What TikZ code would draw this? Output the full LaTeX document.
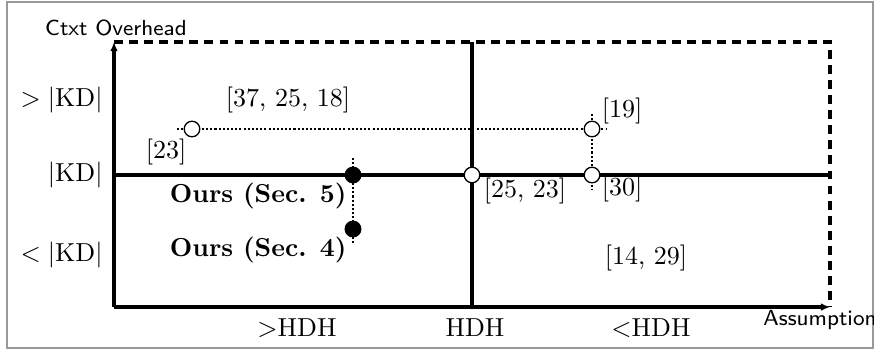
\documentclass[tikz,border=0pt]{standalone}
\usetikzlibrary{arrows.meta}
\begin{document}
\begin{tikzpicture}[x=0.3846pt,y=-0.3846pt,
  axis/.style={line width=1.6pt},
  bound/.style={line width=1.6pt,dash pattern=on 3.4pt off 2.4pt},
  dotline/.style={line width=0.45pt,dash pattern=on 0.8pt off 0.8pt},
  opendot/.style={circle,draw,fill=white,inner sep=0pt,minimum size=6pt,line width=0.5pt},
  fulldot/.style={circle,draw,fill=black,inner sep=0pt,minimum size=6pt,line width=0.5pt},
  lbl/.style={inner sep=0pt},
  sans/.style={inner sep=0pt,font=\fontsize{8.4}{10}\selectfont\sffamily},
  tip/.style={-{Latex[length=3.5pt,width=3pt]}}]
\useasboundingbox (0,0) rectangle (874,350);
\draw[gray!80,line width=0.7pt] (7,2) rectangle (873,348);
% frame coordinates
\coordinate (O) at (114,307);
\coordinate (Ytop) at (114,42);
\coordinate (Xend) at (830,307);
\coordinate (TR) at (830,42);
\coordinate (Htop) at (472,42);
\coordinate (Hbot) at (472,307);
\coordinate (Kl) at (114,175);
\coordinate (Kr) at (830,175);
% dotted connectors
\coordinate (d1s) at (177,129);
\coordinate (d1e) at (607,129);
\coordinate (d2s) at (592,114);
\coordinate (d2e) at (592,190);
\coordinate (d3s) at (353,158);
\coordinate (d3e) at (353,244);
% boundary
\draw[bound] (Ytop) -- (TR) -- (Xend);
\draw[axis] (Htop) -- (Hbot);
\draw[axis] (Kl) -- (Kr);
\draw[axis,tip] (O) -- (Ytop);
\draw[axis,tip] (O) -- (Xend);
\draw[dotline] (d1s) -- (d1e);
\draw[dotline] (d2s) -- (d2e);
\draw[dotline] (d3s) -- (d3e);
% dots
\node[opendot] (p23) at (192,129) {};
\node[opendot] (p19) at (592,129) {};
\node[opendot] (p25) at (472,175) {};
\node[opendot] (p30) at (592,175) {};
\node[fulldot] (o5) at (353,175) {};
\node[fulldot] (o4) at (353,229) {};
% labels
\node[sans] (yl) at (116,28) {Ctxt Overhead};
\node[sans] (xl) at (820,320) {Assumption};
\node[lbl,anchor=east] (g1) at (103,100) {$>|\mathrm{KD}|$};
\node[lbl,anchor=east] (g2) at (103,175) {$|\mathrm{KD}|$};
\node[lbl,anchor=east] (g3) at (103,255) {$<|\mathrm{KD}|$};
\node[lbl] (h1) at (297,328) {$>$HDH};
\node[lbl] (h2) at (475,328) {HDH};
\node[lbl] (h3) at (651,328) {$<$HDH};
\node[lbl] (t1) at (288,100) {[37, 25, 18]};
\node[lbl] (t2) at (166,152) {[23]};
\node[lbl] (t3) at (622,111) {[19]};
\node[lbl] (t4) at (525,191) {[25, 23]};
\node[lbl] (t5) at (622,189) {[30]};
\node[lbl] (t6) at (646,258) {[14, 29]};
\node[lbl,anchor=east] (s5) at (347,196) {\textbf{Ours (Sec. 5)}};
\node[lbl,anchor=east] (s4) at (347,250) {\textbf{Ours (Sec. 4)}};
\end{tikzpicture}
\end{document}
